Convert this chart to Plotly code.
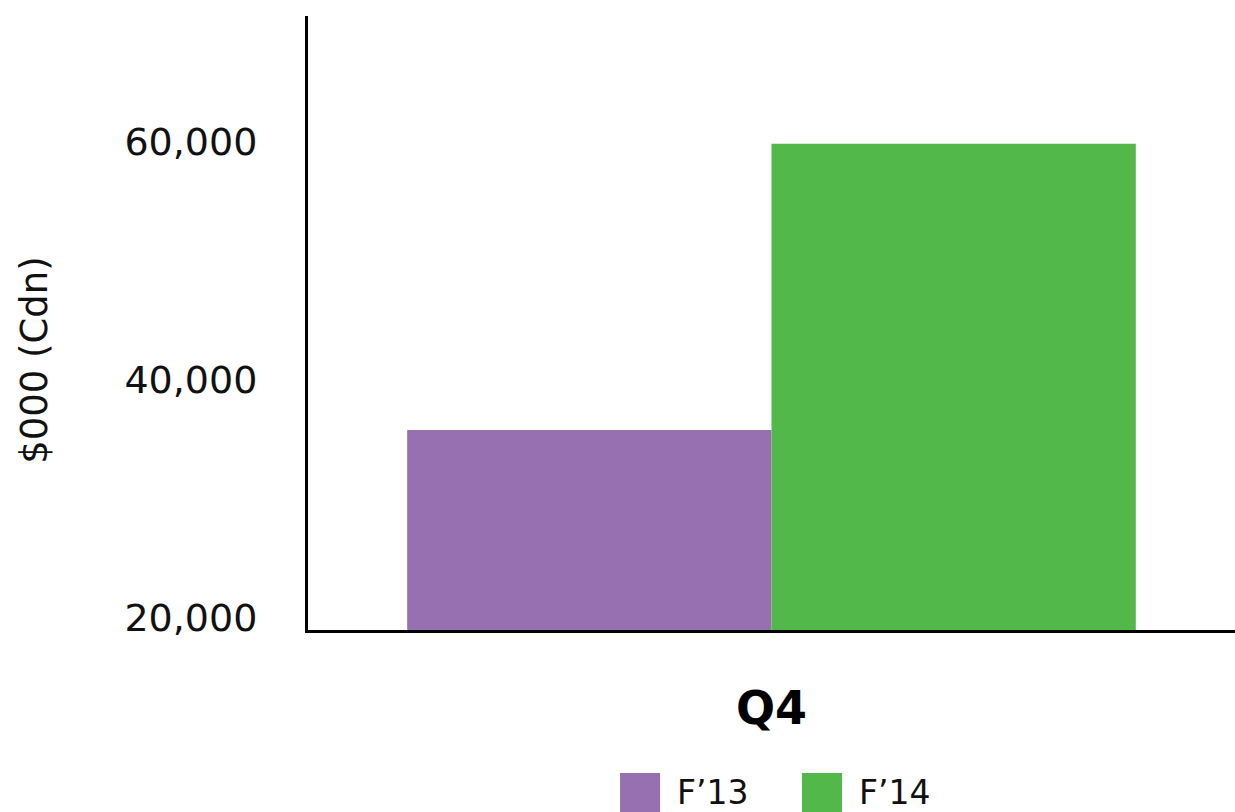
import plotly.graph_objects as go

categories = ["Q4"]
series_names = ["F\u201913", "F\u201914"]
series_values = [[35800], [59860]]
series_colors = ["#9670b0", "#53b84a"]
y_tickvals = [20000, 40000, 60000]
y_ticktext = ["20,000", "40,000", "60,000"]
y_title = "$000 (Cdn)"

FONT = "DejaVu Sans"

fig = go.Figure()
for name, vals, col in zip(series_names, series_values, series_colors):
    fig.add_trace(go.Bar(x=categories, y=vals, name=name, marker=dict(color=col, line=dict(width=0)),
                         showlegend=False))

# custom legend with large swatches
leg_x = [0.3366, 0.5329]
for i, (name, col) in enumerate(zip(series_names, series_colors)):
    fig.add_shape(type="rect", xref="paper", yref="paper",
                  x0=leg_x[i], x1=leg_x[i] + 0.0432, y0=-0.2964, y1=-0.2329,
                  fillcolor=col, line=dict(width=0))
    fig.add_annotation(text=name, xref="paper", yref="paper", x=leg_x[i] + 0.0595, y=-0.2646,
                       xanchor="left", yanchor="middle", showarrow=False,
                       font=dict(family=FONT, size=33, color="#111111"))

# y-axis title
fig.add_annotation(text=y_title, xref="paper", yref="paper", x=-0.2945, y=0.44,
                   xanchor="center", yanchor="middle", textangle=-90, showarrow=False,
                   font=dict(family=FONT, size=37, color="#111111"))

fig.update_layout(
    width=1235, height=812,
    margin=dict(l=308, r=0, t=16, b=182),
    paper_bgcolor="white", plot_bgcolor="white",
    barmode="group", bargap=0.214, bargroupgap=0,
    font=dict(family=FONT, color="#111111"),
    xaxis=dict(showline=True, linecolor="black", linewidth=3, showgrid=False, zeroline=False,
               ticks="", tickfont=dict(family=FONT, size=46, color="black", weight="bold"),
               ticklabelstandoff=36),
    yaxis=dict(range=[19000, 70600], showline=True, linecolor="black", linewidth=3,
               showgrid=False, zeroline=False, ticks="",
               tickvals=y_tickvals, ticktext=y_ticktext,
               tickfont=dict(family=FONT, size=38, color="#111111"),
               ticklabelstandoff=40),
)

fig.write_html("out.html")
